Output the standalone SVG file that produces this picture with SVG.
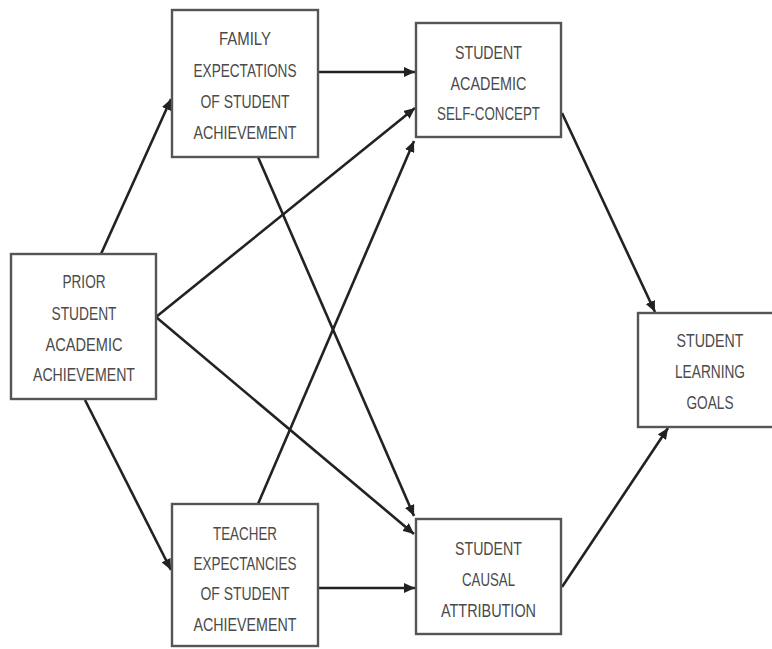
<svg xmlns="http://www.w3.org/2000/svg" width="772" height="649" viewBox="0 0 772 649">
<style>
.box{fill:#fff;stroke:#555;stroke-width:2.4}
.t{font-family:"Liberation Sans",Arial,sans-serif;font-size:19px;fill:#4a4a4a;text-anchor:middle}
.c{stroke:#222;stroke-width:2.6;fill:none;marker-end:url(#ah)}
</style>
<defs>
<marker id="ah" markerUnits="userSpaceOnUse" markerWidth="12" markerHeight="10" refX="11" refY="5" orient="auto">
<path d="M0,0 L11,5 L0,10 z" fill="#222"/>
</marker>
</defs>
<rect width="772" height="649" fill="#fff"/>
<g id="connectors">
<line class="c" x1="101" y1="254" x2="171" y2="99"/>
<line class="c" x1="85" y1="400" x2="171" y2="570"/>
<line class="c" x1="318" y1="72" x2="415" y2="72"/>
<line class="c" x1="156" y1="317" x2="415" y2="108"/>
<line class="c" x1="156" y1="317" x2="414" y2="534"/>
<line class="c" x1="258" y1="157" x2="414" y2="516"/>
<line class="c" x1="258" y1="504" x2="414" y2="141"/>
<line class="c" x1="318" y1="588" x2="415" y2="588"/>
<line class="c" x1="562" y1="113" x2="655" y2="312"/>
<line class="c" x1="562" y1="587" x2="668" y2="428"/>
</g>
<g id="prior">
<rect class="box" x="11" y="254" width="145" height="145"/>
<text class="t" x="84" y="288" textLength="43" lengthAdjust="spacingAndGlyphs">PRIOR</text>
<text class="t" x="84" y="320" textLength="65" lengthAdjust="spacingAndGlyphs">STUDENT</text>
<text class="t" x="84" y="351" textLength="77" lengthAdjust="spacingAndGlyphs">ACADEMIC</text>
<text class="t" x="84" y="381" textLength="102" lengthAdjust="spacingAndGlyphs">ACHIEVEMENT</text>
</g>
<g id="family">
<rect class="box" x="172" y="10" width="146" height="147"/>
<text class="t" x="245" y="45" textLength="52" lengthAdjust="spacingAndGlyphs">FAMILY</text>
<text class="t" x="245" y="77" textLength="103" lengthAdjust="spacingAndGlyphs">EXPECTATIONS</text>
<text class="t" x="245" y="108" textLength="89" lengthAdjust="spacingAndGlyphs">OF STUDENT</text>
<text class="t" x="245" y="139" textLength="103" lengthAdjust="spacingAndGlyphs">ACHIEVEMENT</text>
</g>
<g id="teacher">
<rect class="box" x="172" y="504" width="146" height="142"/>
<text class="t" x="245" y="540" textLength="64" lengthAdjust="spacingAndGlyphs">TEACHER</text>
<text class="t" x="245" y="570" textLength="103" lengthAdjust="spacingAndGlyphs">EXPECTANCIES</text>
<text class="t" x="245" y="600" textLength="89" lengthAdjust="spacingAndGlyphs">OF STUDENT</text>
<text class="t" x="245" y="631" textLength="103" lengthAdjust="spacingAndGlyphs">ACHIEVEMENT</text>
</g>
<g id="selfconcept">
<rect class="box" x="416" y="23" width="145" height="114"/>
<text class="t" x="488.5" y="59" textLength="67" lengthAdjust="spacingAndGlyphs">STUDENT</text>
<text class="t" x="488.5" y="90" textLength="76" lengthAdjust="spacingAndGlyphs">ACADEMIC</text>
<text class="t" x="488.5" y="120" textLength="103" lengthAdjust="spacingAndGlyphs">SELF-CONCEPT</text>
</g>
<g id="causal">
<rect class="box" x="416" y="519" width="145" height="115"/>
<text class="t" x="488.5" y="555" textLength="67" lengthAdjust="spacingAndGlyphs">STUDENT</text>
<text class="t" x="488.5" y="586" textLength="53" lengthAdjust="spacingAndGlyphs">CAUSAL</text>
<text class="t" x="488.5" y="617" textLength="95" lengthAdjust="spacingAndGlyphs">ATTRIBUTION</text>
</g>
<g id="learning">
<rect class="box" x="638" y="313" width="147" height="114"/>
<text class="t" x="710" y="347" textLength="67" lengthAdjust="spacingAndGlyphs">STUDENT</text>
<text class="t" x="710" y="378" textLength="70" lengthAdjust="spacingAndGlyphs">LEARNING</text>
<text class="t" x="710" y="409" textLength="47" lengthAdjust="spacingAndGlyphs">GOALS</text>
</g>
</svg>
